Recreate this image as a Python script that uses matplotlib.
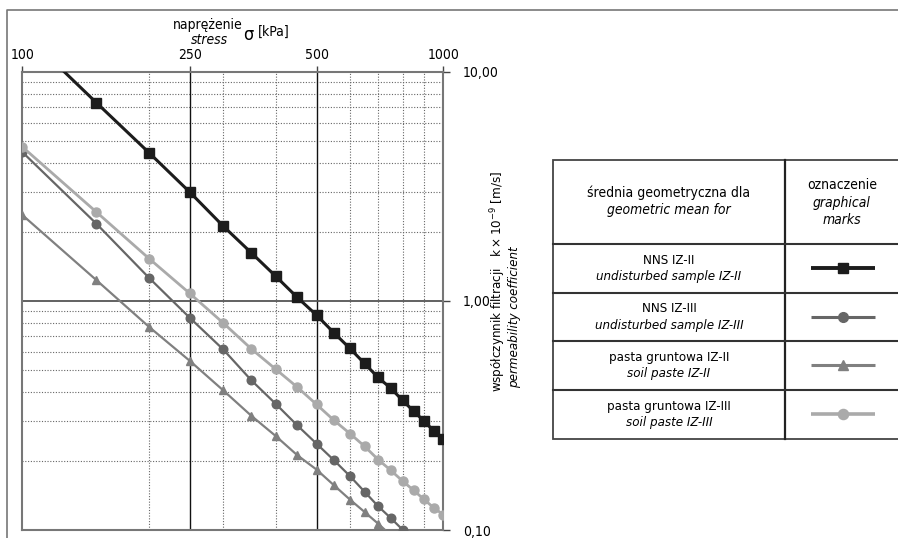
import matplotlib
matplotlib.use("Agg")
import matplotlib.pyplot as plt
from matplotlib.ticker import FixedLocator, NullFormatter

plt.rcParams['font.family'] = ['DejaVu Sans']
plt.rcParams['font.stretch'] = 'condensed'
plt.rcParams['font.size'] = 10

# ---- data ----
stress = [100, 150, 200, 250, 300, 350, 400, 450, 500, 550, 600, 650,
          700, 750, 800, 850, 900, 950, 1000]
nns_iz2 = [15.0, 7.32, 4.43, 2.98, 2.12, 1.62, 1.28, 1.035, 0.866, 0.725,
           0.620, 0.533, 0.463, 0.416, 0.368, 0.330, 0.299, 0.270, 0.250]
nns_iz3_x = stress[:15]
nns_iz3 = [4.46, 2.17, 1.26, 0.843, 0.614, 0.450, 0.355, 0.286, 0.238,
           0.2015, 0.172, 0.147, 0.127, 0.1128, 0.1004]
paste_iz2_x = stress[:14]
paste_iz2 = [2.37, 1.231, 0.770, 0.547, 0.407, 0.315, 0.257, 0.212, 0.1835,
             0.1567, 0.1358, 0.1199, 0.1066, 0.095]
paste_iz3 = [4.70, 2.44, 1.53, 1.077, 0.801, 0.617, 0.503, 0.420, 0.353,
             0.301, 0.2636, 0.232, 0.203, 0.1823, 0.1637, 0.149, 0.136,
             0.1248, 0.1167]

x_major = [100, 250, 500, 1000]
x_major_labels = ['100', '250', '500', '1000']
x_minor = [200, 300, 400, 600, 700, 800, 900]
y_major = [0.1, 1, 10]
y_major_labels = ['0,10', '1,00', '10,00']
y_minor = [0.2, 0.3, 0.4, 0.5, 0.6, 0.7, 0.8, 0.9, 2, 3, 4, 5, 6, 7, 8, 9]

rows_pl = ['NNS IZ-II', 'NNS IZ-III', 'pasta gruntowa IZ-II', 'pasta gruntowa IZ-III']
rows_en = ['undisturbed sample IZ-II', 'undisturbed sample IZ-III',
           'soil paste IZ-II', 'soil paste IZ-III']

# ---- styles ----
c_black = '#1c1c1c'
c_dark = '#666666'
c_mid = '#808080'
c_light = '#aaaaaa'
styles = [
    dict(color=c_black, marker='s', lw=2.2, ms=6.5),
    dict(color=c_dark, marker='o', lw=1.6, ms=6.2),
    dict(color=c_mid, marker='^', lw=1.6, ms=6.0),
    dict(color=c_light, marker='o', lw=2.0, ms=6.5),
]

W, H = 898, 538
fig = plt.figure(figsize=(W / 100, H / 100), dpi=100)

x0, x1 = 22.3, 443.3
y0, y1 = 71.7, 530.0
ax = fig.add_axes([x0 / W, (H - y1) / H, (x1 - x0) / W, (y1 - y0) / H])
ax.set_xscale('log')
ax.set_yscale('log')
ax.set_xlim(100, 1000)
ax.set_ylim(0.1, 10)

# grid
for v in x_minor:
    ax.axvline(v, color='#666666', lw=0.8, ls=(0, (1, 1.5)), zorder=1)
for v in y_minor:
    ax.axhline(v, color='#666666', lw=0.8, ls=(0, (1, 1.5)), zorder=1)
for v in [250, 500]:
    ax.axvline(v, color='#111111', lw=1.0, zorder=1)
ax.axhline(1, color='#555555', lw=1.3, zorder=1)

series = [(stress, nns_iz2), (nns_iz3_x, nns_iz3), (paste_iz2_x, paste_iz2),
          (stress, paste_iz3)]
for (xs, ys), st in zip(series, styles):
    ax.plot(xs, ys, color=st['color'], lw=st['lw'], marker=st['marker'],
            ms=st['ms'], mec=st['color'], mfc=st['color'], zorder=3)

ax.xaxis.tick_top()
ax.yaxis.tick_right()
ax.xaxis.set_major_locator(FixedLocator(x_major))
ax.xaxis.set_minor_locator(FixedLocator(x_minor))
ax.xaxis.set_minor_formatter(NullFormatter())
ax.set_xticklabels(x_major_labels)
ax.yaxis.set_major_locator(FixedLocator(y_major))
ax.yaxis.set_minor_locator(FixedLocator(y_minor))
ax.yaxis.set_minor_formatter(NullFormatter())
ax.set_yticklabels(y_major_labels)
ax.tick_params(which='minor', length=0)
ax.tick_params(axis='x', which='major', direction='out', length=4, width=1,
               color='#444444', pad=3, labelsize=10)
ax.tick_params(axis='y', which='major', direction='out', length=5, width=1,
               color='#444444', pad=9, labelsize=10)
for s in ax.spines.values():
    s.set_color('#777777')
    s.set_linewidth(1.5)

# ---- overlay for texts, frame and table ----
ov = fig.add_axes([0, 0, 1, 1], zorder=5)
ov.set_xlim(0, W)
ov.set_ylim(H, 0)
ov.axis('off')
ov.patch.set_alpha(0)

# outer frame
ov.plot([7, 7, W], [H, 10, 10], color='#777777', lw=1.2, solid_capstyle='butt')

# x axis title
ov.text(208, 25, 'naprężenie', ha='center', va='center', fontsize=10)
ov.text(209, 40, 'stress', ha='center', va='center', fontsize=10, style='italic')
ov.text(243, 35, 'σ', ha='left', va='center', fontsize=13)
ov.text(258, 32, '[kPa]', ha='left', va='center', fontsize=10)

# y axis title (rotated)
ov.text(498, 392, 'współczynnik filtracji   k\u2009×\u200910$^{-9}$ [m/s]',
        rotation=90, ha='center', va='bottom', fontsize=9.5)
ov.text(515, 388, 'permeability coefficient', rotation=90, ha='center',
        va='bottom', fontsize=9.5, style='italic')

# table
tl, tr, tc = 553.3, 900, 785
tt, tb = 160, 439.3
row_lines = [244.3, 292.7, 341.3, 390]
ov.plot([tr, tl, tl, tr], [tt, tt, tb, tb], color='#444444', lw=1.3,
        solid_joinstyle='miter')
ov.plot([tc, tc], [tt, tb], color='#222222', lw=1.6)
for yl in row_lines:
    ov.plot([tl, tr], [yl, yl], color='#333333', lw=1.5)

ov.text(669, 193, 'średnia geometryczna dla', ha='center', va='center', fontsize=10)
ov.text(669, 210, 'geometric mean for', ha='center', va='center', fontsize=10,
        style='italic')
ov.text(842, 185, 'oznaczenie', ha='center', va='center', fontsize=10)
ov.text(842, 203, 'graphical', ha='center', va='center', fontsize=10, style='italic')
ov.text(842, 220, 'marks', ha='center', va='center', fontsize=10, style='italic')

row_tops = row_lines
row_bots = row_lines[1:] + [tb]
for i, (pl, en, st) in enumerate(zip(rows_pl, rows_en, styles)):
    cy = (row_tops[i] + row_bots[i]) / 2
    ov.text(669, cy - 8, pl, ha='center', va='center', fontsize=9.5)
    ov.text(669, cy + 8, en, ha='center', va='center', fontsize=9.5, style='italic')
    ov.plot([811, 875], [cy - 0.5, cy - 0.5], color=st['color'],
            lw=st['lw'] + 0.6, solid_capstyle='butt')
    ov.plot([843], [cy - 0.5], marker=st['marker'], ms=st['ms'] + 0.8,
            color=st['color'], mec=st['color'])

fig.savefig('out.png', dpi=100)
